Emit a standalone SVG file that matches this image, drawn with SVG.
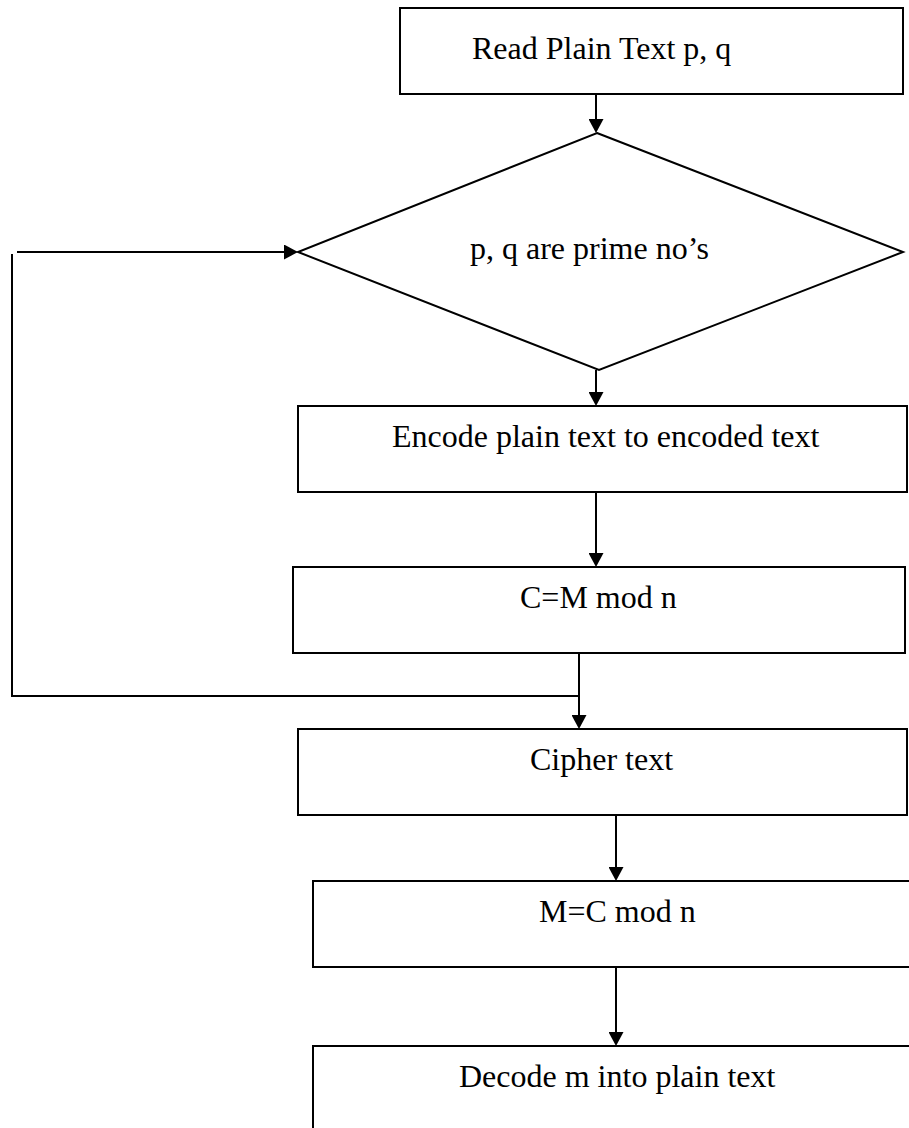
<svg xmlns="http://www.w3.org/2000/svg" width="909" height="1128" viewBox="0 0 909 1128">
  <style>
    .box { fill: #ffffff; stroke: #000000; stroke-width: 2; }
    .lbl { font-family: "Liberation Serif", "Times New Roman", serif; font-size: 32px; fill: #000000; }
    .wire { fill: none; stroke: #000000; stroke-width: 2; }
  </style>
  <defs>
    <marker id="arrow" markerUnits="userSpaceOnUse" viewBox="0 0 14 15" markerWidth="14" markerHeight="15" refX="10" refY="7.5" orient="auto">
      <path d="M0,0 L14,7.5 L0,15 Z" fill="#000000"/>
    </marker>
  </defs>

  <rect width="909" height="1128" fill="#ffffff"/>

  <!-- flow nodes -->
  <g id="read-input">
    <rect class="box" x="400" y="8" width="503" height="86"/>
    <text class="lbl" x="472" y="59">Read Plain Text p, q</text>
  </g>

  <g id="prime-check">
    <polygon class="box" points="597,133 903,252 599,370 298,252"/>
    <text class="lbl" x="470" y="259">p, q are prime no’s</text>
  </g>

  <g id="encode">
    <rect class="box" x="298" y="406" width="609" height="86"/>
    <text class="lbl" x="392" y="447">Encode plain text to encoded text</text>
  </g>

  <g id="encrypt">
    <rect class="box" x="293" y="567" width="612" height="86"/>
    <text class="lbl" x="520" y="608">C=M mod n</text>
  </g>

  <g id="cipher">
    <rect class="box" x="298" y="729" width="609" height="86"/>
    <text class="lbl" x="530" y="770">Cipher text</text>
  </g>

  <g id="decrypt">
    <rect class="box" x="313" y="881" width="620" height="86"/>
    <text class="lbl" x="539" y="922">M=C mod n</text>
  </g>

  <g id="decode">
    <rect class="box" x="313" y="1046" width="620" height="120"/>
    <text class="lbl" x="459" y="1087">Decode m into plain text</text>
  </g>

  <!-- connectors -->
  <g id="connectors">
    <path class="wire" d="M596,94 V129" marker-end="url(#arrow)"/>
    <path class="wire" d="M596,370 V402" marker-end="url(#arrow)"/>
    <path class="wire" d="M596,492 V563" marker-end="url(#arrow)"/>
    <path class="wire" d="M579,653 V725" marker-end="url(#arrow)"/>
    <path class="wire" d="M616,815 V877" marker-end="url(#arrow)"/>
    <path class="wire" d="M616,967 V1042" marker-end="url(#arrow)"/>
    <!-- feedback loop back to the prime check -->
    <path class="wire" d="M579,696 H12 V254"/>
    <path class="wire" d="M17,252 H294" marker-end="url(#arrow)"/>
  </g>
</svg>
